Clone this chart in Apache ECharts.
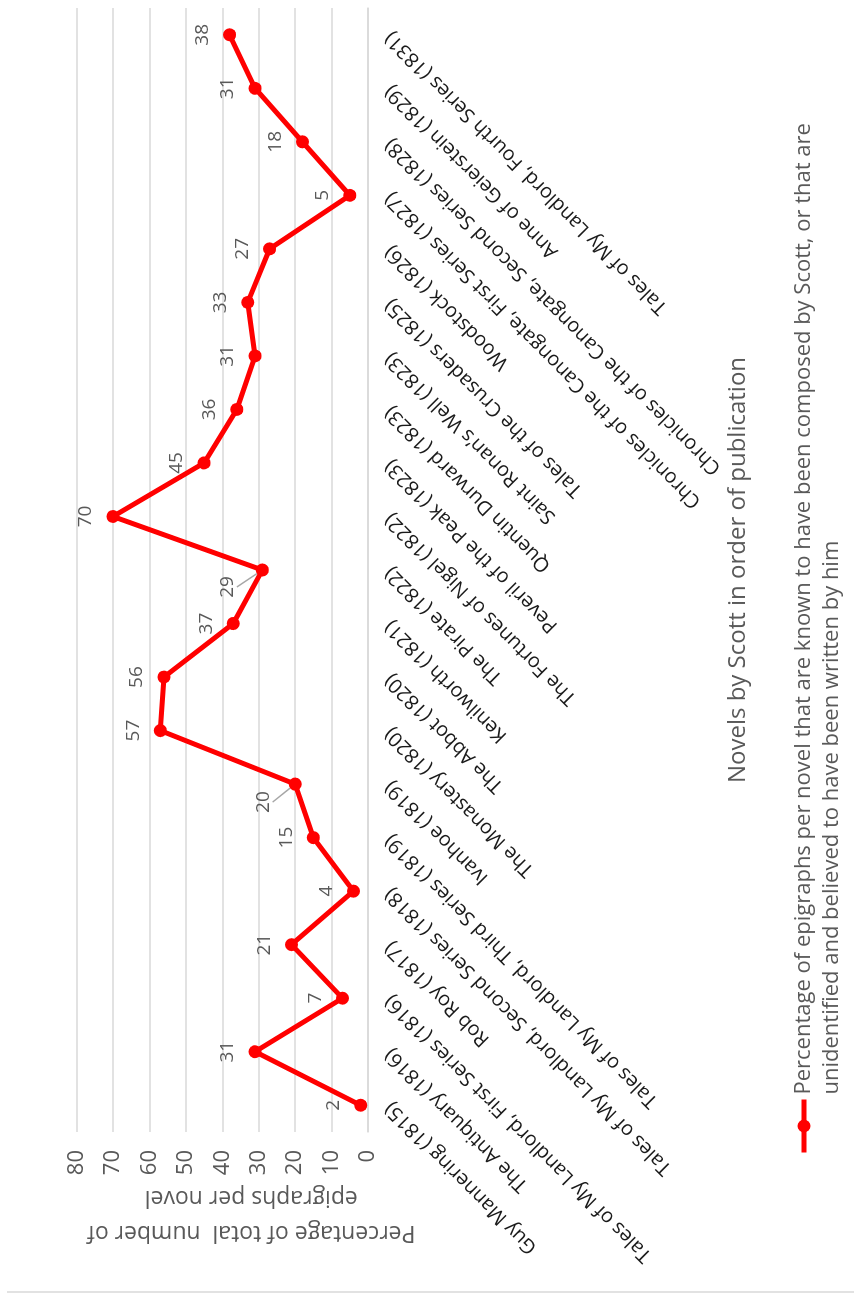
<!DOCTYPE html>
<html>
<head>
<meta charset="utf-8">
<script src="https://cdn.jsdelivr.net/npm/echarts@6/dist/echarts.min.js"></script>
<style>
  html, body { margin: 0; padding: 0; background: #fff; overflow: hidden; width: 854px; height: 1294px; }
  #chart { position: absolute; left: 0; top: 0; width: 1294px; height: 854px;
           transform-origin: 0 0; transform: translate(0, 1294px) rotate(-90deg); }
</style>
</head>
<body>
<div id="chart"></div>
<script>
const categories = [
  "Guy Mannering (1815)",
  "The Antiquary (1816)",
  "Tales of My Landlord, First Series (1816)",
  "Rob Roy (1817)",
  "Tales of My Landlord, Second Series (1818)",
  "Tales of My Landlord, Third Series (1819)",
  "Ivanhoe (1819)",
  "The Monastery (1820)",
  "The Abbot (1820)",
  "Kenilworth (1821)",
  "The Pirate (1822)",
  "The Fortunes of Nigel (1822)",
  "Peveril of the Peak (1823)",
  "Quentin Durward (1823)",
  "Saint Ronan’s Well (1823)",
  "Tales of the Crusaders (1825)",
  "Woodstock (1826)",
  "Chronicles of the Canongate, First Series (1827)",
  "Chronicles of the Canongate, Second Series (1828)",
  "Anne of Geierstein (1829)",
  "Tales of My Landlord, Fourth Series (1831)"
];
const values = [2, 31, 7, 21, 4, 15, 20, 57, 56, 37, 29, 70, 45, 36, 31, 33, 27, 5, 18, 31, 38];
const seriesName = "Percentage of epigraphs per novel that are known to have been composed by Scott, or that are\nunidentified and believed to have been written by him";
const valueAxisName = "Percentage of total  number of\nepigraphs per novel";
const categoryAxisName = "Novels by Scott in order of publication";
const leaderLabels = [6, 10];

const FONT = "Open Sans";
const chart = echarts.init(document.getElementById('chart'), null, { renderer: 'canvas' });

const data = values.map((v, i) => leaderLabels.includes(i)
  ? { value: v, labelLine: { show: true } }
  : { value: v });

chart.setOption({
  animation: false,
  backgroundColor: '#ffffff',
  textStyle: { fontFamily: FONT },
  grid: { left: 162, right: 8, top: 76.5, bottom: 486, containLabel: false },
  legend: {
    left: 134, top: 757,
    itemWidth: 53, itemHeight: 16,
    itemGap: 5,
    lineStyle: { width: 5, color: '#ff0000' },
    itemStyle: { color: '#ff0000' },
    formatter: function (name) { return '\n' + name; },
    textStyle: { fontFamily: FONT, fontSize: 22, color: '#595959', lineHeight: 28 },
    data: [seriesName]
  },
  xAxis: {
    type: 'category',
    data: categories,
    boundaryGap: true,
    axisLine: { show: true, lineStyle: { color: '#d9d9d9', width: 1.5 } },
    axisTick: { show: false },
    axisLabel: { rotate: 45, interval: 0, margin: 20, fontFamily: FONT, fontSize: 20, color: '#1a1a1a' },
    name: categoryAxisName,
    nameLocation: 'middle',
    nameGap: 358,
    nameMoveOverlap: false,
    nameTextStyle: { fontFamily: FONT, fontSize: 24, color: '#595959' }
  },
  yAxis: {
    type: 'value',
    min: 0, max: 80, interval: 10,
    axisLine: { show: false },
    axisTick: { show: false },
    splitLine: { lineStyle: { color: '#d9d9d9', width: 1.5 } },
    axisLabel: { margin: 18, fontFamily: FONT, fontSize: 22, color: '#595959' },
    name: valueAxisName,
    nameLocation: 'middle',
    nameRotate: 90,
    nameGap: 48,
    nameMoveOverlap: false,
    nameTextStyle: { fontFamily: FONT, fontSize: 23, color: '#595959', lineHeight: 35, padding: [0, 58, 0, 0] }
  },
  series: [{
    name: seriesName,
    type: 'line',
    data: data,
    symbol: 'circle',
    symbolSize: 13,
    lineStyle: { color: '#ff0000', width: 5 },
    itemStyle: { color: '#ff0000' },
    label: { show: true, position: 'top', distance: 11, fontFamily: FONT, fontSize: 19, color: '#595959' },
    labelLine: { show: false, lineStyle: { color: '#a6a6a6', width: 1.5 } },
    labelLayout: function (p) {
      if (p.dataIndex === 6) return { dx: -18, dy: -5 };
      if (p.dataIndex === 10) return { dx: -17, dy: -8 };
      return {};
    }
  }],
  graphic: [{
    type: 'line',
    shape: { x1: 2, y1: 7, x2: 2, y2: 854 },
    style: { stroke: '#d9d9d9', lineWidth: 1.5 }
  }]
});
</script>
</body>
</html>
